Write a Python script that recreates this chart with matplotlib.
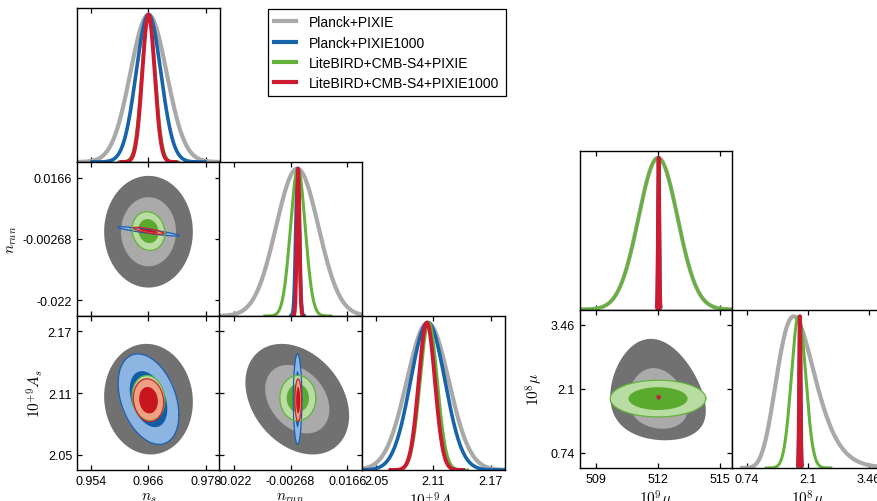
import numpy as np
import matplotlib
matplotlib.use("Agg")
import matplotlib.pyplot as plt
from matplotlib.lines import Line2D
from matplotlib.ticker import FixedLocator, FixedFormatter

plt.rcParams['font.family'] = ['Liberation Sans', 'DejaVu Sans']
plt.rcParams['mathtext.fontset'] = 'cm'
plt.rcParams['axes.unicode_minus'] = False

W, H = 878, 502

# datasets, drawn in this order
names = ['Planck+PIXIE', 'Planck+PIXIE1000',
         'LiteBIRD+CMB-S4+PIXIE', 'LiteBIRD+CMB-S4+PIXIE1000']

# left triangle: n_s, n_run, 10^9 A_s  (mean, sigma, correlations)
ns_mean = [0.966, 0.966, 0.966, 0.966]
ns_sigma = [0.0038, 0.0026, 0.0014, 0.0013]
nrun_mean = [-0.0004, -0.0003, -0.0002, -0.0001]
nrun_sigma = [0.0072, 0.0006, 0.0025, 0.00045]
As_mean = [2.104, 2.104, 2.105, 2.103]
As_sigma = [0.022, 0.018, 0.009, 0.0085]
rho_ns_nrun = [0.0, -0.9, -0.1, -0.78]
rho_ns_As = [-0.05, -0.35, -0.1, -0.1]
rho_nrun_As = [-0.3, 0.0, 0.0, 0.0]

# right triangle: 10^9 mu, 10^8 mu (Planck+PIXIE 10^8 mu is log-normal)
mu9_mean = [512.0, 512.03, 512.0, 512.03]
mu9_sigma = [0.95, 0.03, 0.95, 0.03]
mu8_mean = [1.78, 1.92, 1.89, 1.92]
mu8_sigma = [0.235, 0.015, 0.16, 0.015]
mu8_log = [True, False, False, False]
rho_mu = [-0.15, 0.0, 0.0, 0.0]

# axis ranges and ticks
ns_lim = (0.951, 0.981)
nrun_lim = (-0.0270, 0.0216)
As_lim = (2.035, 2.185)
mu9_lim = (508.2, 515.6)
mu8_lim = (0.41, 3.79)
ns_ticks = [0.954, 0.966, 0.978]
ns_labels = ['0.954', '0.966', '0.978']
nrun_ticks = [-0.022, -0.00268, 0.0166]
nrun_labels = ['-0.022', '-0.00268', '0.0166']
As_ticks = [2.05, 2.11, 2.17]
As_labels = ['2.05', '2.11', '2.17']
mu9_ticks = [509, 512, 515]
mu9_labels = ['509', '512', '515']
mu8_ticks = [0.74, 2.1, 3.46]
mu8_labels = ['0.74', '2.1', '3.46']

# styles
line_col = ['#a9a9a9', '#1764ab', '#64b23c', '#cc1a30']
line_w = [3.0, 2.6, 2.2, 2.8]
fill_out = ['#717171', '#8db5e2', '#b8dca2', '#eba182']
fill_in = ['#aaaaaa', '#105ca6', '#5aaa30', '#c8161f']
edge_col = [None, '#1a5fb4', '#64b23c', '#d0202e']
R_IN, R_OUT = 1.515, 2.448


def px_axes(fig, x0, y0, w, h):
    return fig.add_axes([x0 / W, 1 - (y0 + h) / H, w / W, h / H])


def style(ax, xlim, xt, xl, ylim=None, yt=None, yl=None, xlab=False, ylab=False):
    ax.set_xlim(xlim)
    ax.xaxis.set_major_locator(FixedLocator(xt))
    ax.xaxis.set_major_formatter(FixedFormatter(xl))
    if ylim is not None:
        ax.set_ylim(ylim)
    if yt is not None:
        ax.yaxis.set_major_locator(FixedLocator(yt))
        ax.yaxis.set_major_formatter(FixedFormatter(yl))
        ax.tick_params(axis='y', left=True, right=True)
    else:
        ax.set_yticks([])
    ax.tick_params(direction='in', length=3.5, width=0.9, top=True,
                   labelsize=9, labelbottom=xlab, labelleft=ylab)
    for s in ax.spines.values():
        s.set_linewidth(1.0)


def ellipse(mx, my, sx, sy, rho, r, ylog=False):
    t = np.linspace(0, 2 * np.pi, 300)
    u, v = r * np.cos(t), r * np.sin(t)
    x = mx + sx * u
    if ylog:
        y = np.exp(np.log(my) + sy * (rho * u + np.sqrt(1 - rho ** 2) * v))
    else:
        y = my + sy * (rho * u + np.sqrt(1 - rho ** 2) * v)
    return x, y


def draw_1d(ax, means, sigmas, lim, logs=None):
    for i in range(len(names)):
        m, s = means[i], sigmas[i]
        log = logs[i] if logs else False
        if log:
            lo = max(lim[0], m * np.exp(-4.7 * s))
            hi = min(lim[1], m * np.exp(4.7 * s))
            x = np.linspace(lo, hi, 600)
            z = np.log(x / m) / s
        else:
            lo = max(lim[0], m - 4.7 * s)
            hi = min(lim[1], m + 4.7 * s)
            x = np.linspace(lo, hi, 600)
            z = (x - m) / s
        ax.plot(x, np.exp(-0.5 * z ** 2), color=line_col[i], lw=line_w[i],
                solid_capstyle='butt')


def draw_2d(ax, mx, sx, my, sy, rho, ylog=None):
    for i in range(len(names)):
        lg = ylog[i] if ylog else False
        xo, yo = ellipse(mx[i], my[i], sx[i], sy[i], rho[i], R_OUT, lg)
        xi, yi = ellipse(mx[i], my[i], sx[i], sy[i], rho[i], R_IN, lg)
        ax.fill(xo, yo, color=fill_out[i], lw=0)
        ax.fill(xi, yi, color=fill_in[i], lw=0)
        if edge_col[i]:
            ax.plot(xo, yo, color=edge_col[i], lw=0.9)


fig = plt.figure(figsize=(W / 100, H / 100), dpi=100)

cols = [77, 219, 362]
rows = [9, 163, 317]
cw, rh = 143, 154

# --- left triangle ---
ax = px_axes(fig, cols[0], rows[0], cw, rh)
draw_1d(ax, ns_mean, ns_sigma, ns_lim)
style(ax, ns_lim, ns_ticks, ns_labels, ylim=(0, 1.045))

ax = px_axes(fig, cols[0], rows[1], cw, rh)
draw_2d(ax, ns_mean, ns_sigma, nrun_mean, nrun_sigma, rho_ns_nrun)
style(ax, ns_lim, ns_ticks, ns_labels, nrun_lim, nrun_ticks, nrun_labels, ylab=True)
ax.set_ylabel('$n_{run}$', fontsize=11, labelpad=3)

ax = px_axes(fig, cols[1], rows[1], cw, rh)
draw_1d(ax, nrun_mean, nrun_sigma, nrun_lim)
style(ax, nrun_lim, nrun_ticks, nrun_labels, ylim=(0, 1.045))

ax = px_axes(fig, cols[0], rows[2], cw, rh)
draw_2d(ax, ns_mean, ns_sigma, As_mean, As_sigma, rho_ns_As)
style(ax, ns_lim, ns_ticks, ns_labels, As_lim, As_ticks, As_labels, xlab=True, ylab=True)
ax.set_ylabel('$10^{+9}A_s$', fontsize=11, labelpad=2)
ax.set_xlabel('$n_s$', fontsize=11, labelpad=2)

ax = px_axes(fig, cols[1], rows[2], cw, rh)
draw_2d(ax, nrun_mean, nrun_sigma, As_mean, As_sigma, rho_nrun_As)
style(ax, nrun_lim, nrun_ticks, nrun_labels, As_lim, As_ticks, As_labels, xlab=True)
ax.set_xlabel('$n_{run}$', fontsize=11, labelpad=2)

ax = px_axes(fig, cols[2], rows[2], cw, rh)
draw_1d(ax, As_mean, As_sigma, As_lim)
style(ax, As_lim, As_ticks, As_labels, ylim=(0, 1.045), xlab=True)
ax.set_xlabel('$10^{+9}A_s$', fontsize=11, labelpad=2)

# --- right triangle ---
rcols = [580, 732]
rrows = [152, 310.5]
rw, rrh = 152, 158.5

ax = px_axes(fig, rcols[0], rrows[0], rw, rrh)
draw_1d(ax, mu9_mean, mu9_sigma, mu9_lim)
style(ax, mu9_lim, mu9_ticks, mu9_labels, ylim=(0, 1.045))

ax = px_axes(fig, rcols[0], rrows[1], rw, rrh)
draw_2d(ax, mu9_mean, mu9_sigma, mu8_mean, mu8_sigma, rho_mu, mu8_log)
style(ax, mu9_lim, mu9_ticks, mu9_labels, mu8_lim, mu8_ticks, mu8_labels, xlab=True, ylab=True)
ax.set_ylabel(r'$10^{8}\mu$', fontsize=11, labelpad=4)
ax.set_xlabel(r'$10^{9}\mu$', fontsize=11, labelpad=2)

ax = px_axes(fig, rcols[1], rrows[1], rw, rrh)
draw_1d(ax, mu8_mean, mu8_sigma, mu8_lim, mu8_log)
style(ax, mu8_lim, mu8_ticks, mu8_labels, ylim=(0, 1.045), xlab=True)
ax.set_xlabel(r'$10^{8}\mu$', fontsize=11, labelpad=2)

handles = [Line2D([], [], color=line_col[i], lw=3) for i in range(len(names))]
leg = fig.legend(handles, names, loc='upper left',
                 bbox_to_anchor=(268 / W, 1 - 10 / H), borderaxespad=0,
                 fontsize=10, handlelength=1.6, handletextpad=0.9,
                 labelspacing=0.45, borderpad=0.45, fancybox=False,
                 framealpha=1, edgecolor='black')
leg.get_frame().set_linewidth(0.9)

fig.savefig('out.png', dpi=100)
